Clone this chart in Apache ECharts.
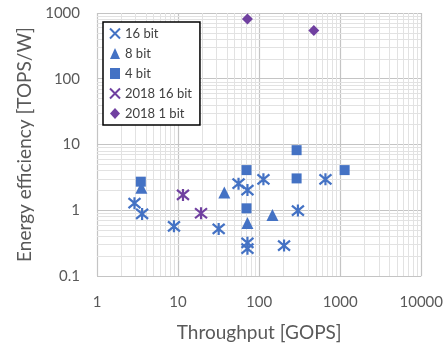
<!DOCTYPE html>
<html style="height: 100%">
<head>
<meta charset="utf-8">
</head>
<body style="height: 100%; margin: 0; background: #fff">
<div id="container" style="width: 446px; height: 347px"></div>
<script type="text/javascript" src="https://cdn.jsdelivr.net/npm/echarts/dist/echarts.min.js"></script>
<script type="text/javascript">
// values (throughput GOPS, efficiency TOPS/W)
var bit16X = [2.9, 3.6, 8.9, 31.7, 55.7, 71.8, 71.8, 71.8, 113, 203, 301, 658];
var bit16Y = [1.28, 0.88, 0.57, 0.52, 2.54, 2.03, 0.32, 0.26, 2.95, 0.29, 0.99, 2.95];
var bit8X = [3.53, 37.2, 71.8, 146];
var bit8Y = [2.2, 1.87, 0.64, 0.85];
var bit4X = [3.47, 69.9, 69.9, 290, 290, 1135];
var bit4Y = [2.72, 4.08, 1.07, 8.2, 3.05, 4.08];
var old16X = [11.5, 19.2];
var old16Y = [1.71, 0.9];
var old1X = [71.8, 473];
var old1Y = [811, 540];

var seriesNames = ['16 bit', '8 bit', '4 bit', '2018 16 bit', '2018 1 bit'];
var xTicks = [1, 10, 100, 1000, 10000];
var yTicks = [0.1, 1, 10, 100, 1000];

function pairs(xs, ys) {
    return xs.map(function (x, i) { return [x, ys[i]]; });
}

// minor grid lines at 2..9 of each decade
var minorX = [];
for (var d = 1; d < 10000; d *= 10) {
    for (var k = 2; k < 10; k++) minorX.push({xAxis: d * k});
}
var minorY = [];
for (var e = 0.1; e < 999; e *= 10) {
    for (var m = 2; m < 10; m++) minorY.push({yAxis: +(e * m).toPrecision(3)});
}

var blue = '#4472c4';
var purple = '#7040a0';
var star = 'path://M0,0L10,10M10,0L0,10M5,-1L5,11';
var cross = 'path://M0,0L10,10M10,0L0,10';
var font = 'Lato';

function plain(v) {
    return String(+v.toPrecision(3));
}

var dom = document.getElementById('container');
var myChart = echarts.init(dom);

var option = {
    backgroundColor: '#fff',
    textStyle: {fontFamily: font},
    grid: {left: 97, right: 23, top: 13, bottom: 69},
    legend: {
        orient: 'vertical',
        left: 103,
        top: 22,
        z: 50,
        padding: [5, 8, 5, 6],
        itemGap: 7,
        itemWidth: 10,
        itemHeight: 11,
        backgroundColor: '#fff',
        borderColor: '#000',
        borderWidth: 1.5,
        textStyle: {fontSize: 13, color: '#404040', fontFamily: font},
        data: [
            {name: seriesNames[0], icon: cross},
            {name: seriesNames[1]},
            {name: seriesNames[2]},
            {name: seriesNames[3], icon: cross},
            {name: seriesNames[4]}
        ]
    },
    xAxis: {
        type: 'log',
        logBase: 10,
        min: xTicks[0],
        max: xTicks[xTicks.length - 1],
        name: 'Throughput [GOPS]',
        nameLocation: 'middle',
        nameGap: 47,
        nameTextStyle: {fontSize: 19, color: '#595959'},
        axisLine: {show: false},
        axisTick: {show: false},
        axisLabel: {fontSize: 15, color: '#595959', margin: 19, formatter: plain},
        splitLine: {show: true, lineStyle: {color: '#c4c4c4', width: 1.2}}
    },
    yAxis: {
        type: 'log',
        logBase: 10,
        min: yTicks[0],
        max: yTicks[yTicks.length - 1],
        name: 'Energy efficiency [TOPS/W]',
        nameLocation: 'middle',
        nameGap: 63,
        nameTextStyle: {fontSize: 19, color: '#595959'},
        axisLine: {show: false},
        axisTick: {show: false},
        axisLabel: {fontSize: 15, color: '#595959', margin: 17, formatter: plain},
        splitLine: {show: true, lineStyle: {color: '#c4c4c4', width: 1.2}}
    },
    series: [
        {
            name: 'minor',
            type: 'scatter',
            data: [],
            z: 1,
            silent: true,
            markLine: {
                silent: true,
                z: 1,
                symbol: 'none',
                animation: false,
                label: {show: false},
                lineStyle: {color: '#e2e2e2', width: 1, type: 'solid'},
                data: minorX.concat(minorY)
            }
        },
        {
            name: seriesNames[0],
            type: 'scatter',
            z: 3,
            symbol: star,
            symbolSize: 12,
            itemStyle: {color: 'rgba(0,0,0,0)', borderColor: blue, borderWidth: 2.2, opacity: 1},
            data: pairs(bit16X, bit16Y)
        },
        {
            name: seriesNames[1],
            type: 'scatter',
            z: 3,
            symbol: 'triangle',
            symbolSize: 12,
            itemStyle: {color: blue, opacity: 1},
            data: pairs(bit8X, bit8Y)
        },
        {
            name: seriesNames[2],
            type: 'scatter',
            z: 3,
            symbol: 'rect',
            symbolSize: 10,
            itemStyle: {color: blue, opacity: 1},
            data: pairs(bit4X, bit4Y)
        },
        {
            name: seriesNames[3],
            type: 'scatter',
            z: 3,
            symbol: star,
            symbolSize: 12,
            itemStyle: {color: 'rgba(0,0,0,0)', borderColor: purple, borderWidth: 2.2, opacity: 1},
            data: pairs(old16X, old16Y)
        },
        {
            name: seriesNames[4],
            type: 'scatter',
            z: 3,
            symbol: 'diamond',
            symbolSize: 11,
            itemStyle: {color: purple, opacity: 1},
            data: pairs(old1X, old1Y)
        }
    ]
};

myChart.setOption(option);
</script>
</body>
</html>
